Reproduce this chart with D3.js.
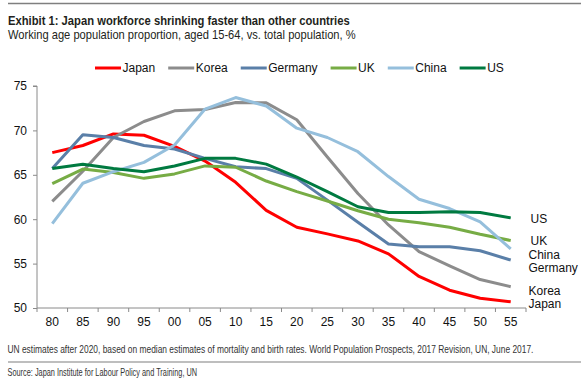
<!DOCTYPE html>
<html><head><meta charset="utf-8">
<script src="https://cdn.jsdelivr.net/npm/d3@7"></script>
<style>
body{margin:0;background:#fff;}
svg{display:block;font-family:"Liberation Sans",Arial,sans-serif;}
</style></head>
<body><svg id="c" width="584" height="380"></svg>
<script>
const years = ["80","85","90","95","00","05","10","15","20","25","30","35","40","45","50","55"];
const seriesNames = ["Japan","Korea","Germany","UK","China","US"];
const japan   = [67.5,68.3,69.6,69.45,68.2,66.55,64.15,61.0,59.1,58.35,57.55,56.1,53.55,52.0,51.1,50.7];
const korea   = [62.0,65.4,69.2,71.0,72.2,72.35,73.15,73.1,71.2,67.0,62.9,59.35,56.35,54.75,53.2,52.4];
const germany = [65.7,69.5,69.2,68.3,67.9,66.85,65.9,65.7,64.6,62.15,59.65,57.2,56.9,56.9,56.45,55.4];
const uk      = [64.0,65.65,65.25,64.6,65.1,66.0,65.85,64.3,63.1,62.05,60.95,60.0,59.6,59.1,58.3,57.6];
const china   = [59.5,64.05,65.35,66.4,68.35,72.4,73.7,72.75,70.25,69.2,67.6,64.8,62.25,61.2,59.7,56.65];
const us      = [65.7,66.2,65.7,65.35,66.0,66.85,66.85,66.2,64.75,63.1,61.4,60.75,60.75,60.85,60.75,60.15];
const yTicks  = [50,55,60,65,70,75];
const colors  = ["#ff0000","#8c8c8c","#5a7fa8","#77ac45","#95bfdc","#007a40"];
const values  = [japan,korea,germany,uk,china,us];
const endLabelY = {"US":219,"UK":240.5,"China":255,"Germany":267.5,"Korea":291,"Japan":304};

const svg = d3.select("#c");
const x = d3.scaleBand().domain(years).range([37,526]).paddingInner(0).paddingOuter(0);
const y = d3.scaleLinear().domain([50,75]).range([308,86]);
const cx = d => x(d) + x.bandwidth()/2;

// rules
svg.append("line").attr("x1",8).attr("x2",581).attr("y1",3.5).attr("y2",3.5).attr("stroke","#7f7f7f").attr("stroke-width",1.5);
svg.append("line").attr("x1",8).attr("x2",581).attr("y1",362).attr("y2",362).attr("stroke","#7f7f7f").attr("stroke-width",1.2);

// condensed text: scale horizontally to the measured width
function condensed(tx, ty, size, weight, fill, width, str){
  const t = svg.append("text").attr("font-size",size).attr("font-weight",weight).attr("fill",fill).text(str);
  const w = t.node().getComputedTextLength();
  t.attr("transform",`translate(${tx},${ty}) scale(${width/w},1)`);
  return t;
}
condensed(8,24.5,13.5,"bold","#231f20",342,"Exhibit 1: Japan workforce shrinking faster than other countries");
condensed(8,38.5,12.5,"normal","#231f20",348,"Working age population proportion, aged 15-64, vs. total population, %");
condensed(7.5,352.5,10,"normal","#333",527,"UN estimates after 2020, based on median estimates of mortality and birth rates. World Population Prospects, 2017 Revision, UN, June 2017.");
condensed(7.5,376,10,"normal","#333",190,"Source: Japan Institute for Labour Policy and Training, UN");

// legend
let lx = 95;
seriesNames.forEach((n,i)=>{
  const g = svg.append("g");
  g.append("line").attr("x1",lx).attr("x2",lx+26).attr("y1",68).attr("y2",68).attr("stroke",colors[i]).attr("stroke-width",3);
  const t = g.append("text").attr("x",lx+27.5).attr("y",68).attr("dy","0.35em").attr("font-size",12).attr("fill","#111").text(n);
  lx += 27.5 + t.node().getComputedTextLength() + 13;
});

// y axis
const ya = svg.append("g").attr("transform","translate(37,0)")
  .call(d3.axisLeft(y).tickValues(yTicks).tickSize(4).tickPadding(6).tickFormat(d3.format("d")));
ya.select(".domain").attr("stroke","#8a8a8a").attr("d","M-4,"+y(75)+"H0V"+y(50));
ya.selectAll(".tick line").attr("stroke","#8a8a8a");
ya.selectAll("text").attr("font-size",12).attr("fill","#111").attr("font-family","Liberation Sans,Arial,sans-serif");

// x axis
const xa = svg.append("g").attr("transform","translate(0,308)")
  .call(d3.axisBottom(x).tickSize(0).tickPadding(9.5));
xa.select(".domain").attr("stroke","#8a8a8a").attr("d","M37,0H526");
xa.selectAll("text").attr("font-size",12).attr("fill","#111").attr("font-family","Liberation Sans,Arial,sans-serif");
xa.selectAll(".bnd").data(years.concat(["end"])).enter().append("line")
  .attr("x1",(d,i)=> i<years.length? x(d) : x(years[years.length-1])+x.bandwidth())
  .attr("x2",(d,i)=> i<years.length? x(d) : x(years[years.length-1])+x.bandwidth())
  .attr("y1",0).attr("y2",4).attr("stroke","#8a8a8a");

// lines
const line = d3.line().x((d,i)=>cx(years[i])).y(d=>y(d));
values.forEach((v,i)=>{
  svg.append("path").datum(v).attr("d",line).attr("fill","none").attr("stroke",colors[i])
    .attr("stroke-width",3).attr("stroke-linejoin","round").attr("stroke-linecap","butt");
});

// end labels
seriesNames.forEach(n=>{
  svg.append("text").attr("x",n==="US"||n==="UK"?530.5:528.5).attr("y",endLabelY[n]).attr("dy","0.35em")
    .attr("font-size",12).attr("fill","#111").text(n);
});
</script></body></html>
